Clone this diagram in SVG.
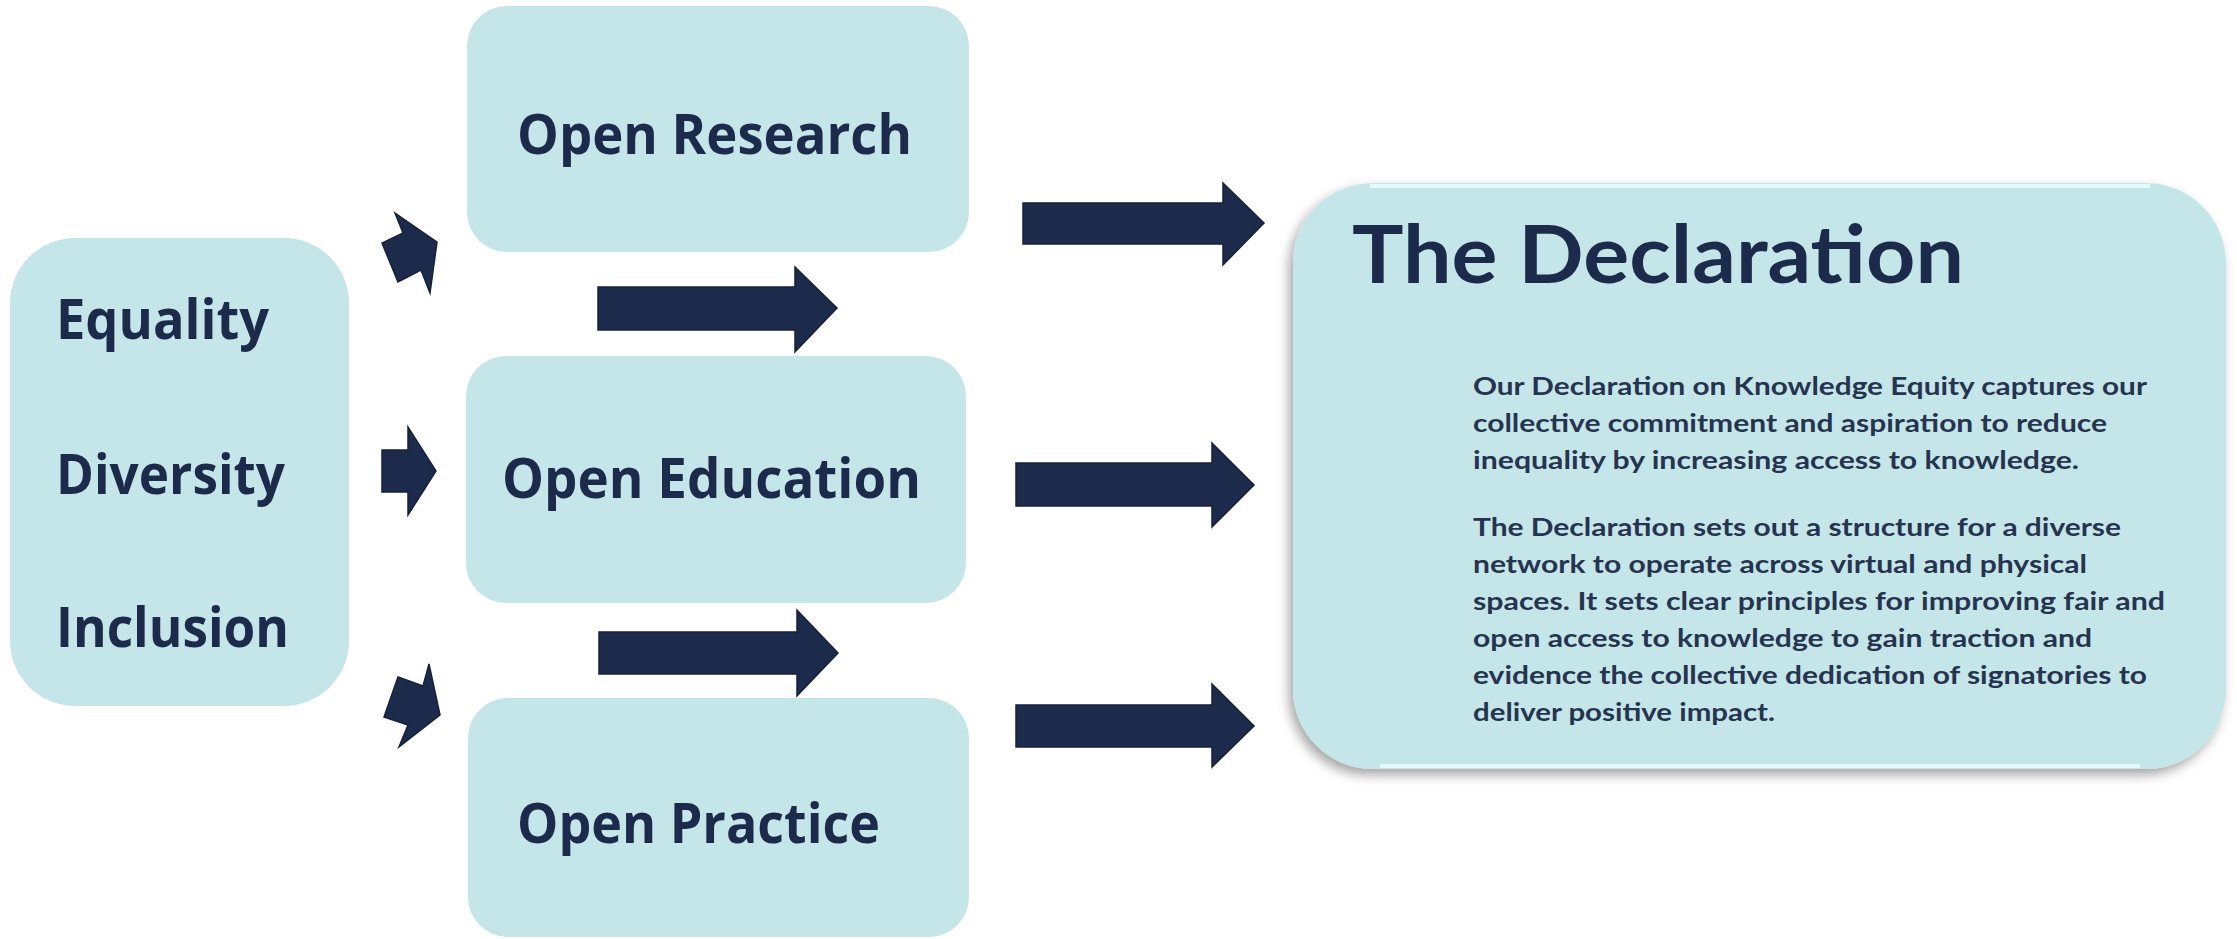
<svg xmlns="http://www.w3.org/2000/svg" width="2237" height="939" viewBox="0 0 2237 939">
<style>
.box{fill:#c5e6e8;}
.lbl{font-family:"Open Sans","Noto Sans",sans-serif;font-weight:700;font-size:56px;fill:#1c2a4b;}
.arrow{fill:#1c2a4b;stroke:#16213c;stroke-width:1.5;stroke-linejoin:miter;}
.title{font-family:Lato,"Noto Sans",sans-serif;font-weight:700;font-size:80px;fill:#1c2a4b;}
.body{font-family:Lato,"Noto Sans",sans-serif;font-weight:700;font-size:24px;fill:#26344f;}
</style>
<defs>
<filter id="shadow" x="-10%" y="-10%" width="120%" height="125%">
<feDropShadow dx="-4" dy="6" stdDeviation="6" flood-color="#000" flood-opacity="0.35"/>
</filter>
</defs>
<rect width="2237" height="939" fill="#ffffff"/>

<g id="node-edi">
<rect class="box" x="10" y="238" width="339" height="468" rx="65" ry="65"/>
<text class="lbl" x="56" y="339" textLength="213" lengthAdjust="spacingAndGlyphs">Equality</text>
<text class="lbl" x="56" y="494" textLength="229" lengthAdjust="spacingAndGlyphs">Diversity</text>
<text class="lbl" x="56" y="647" textLength="233" lengthAdjust="spacingAndGlyphs">Inclusion</text>
</g>

<g id="node-open-research">
<rect class="box" x="467" y="6" width="502" height="246" rx="40" ry="40"/>
<text class="lbl" x="517" y="154" textLength="395" lengthAdjust="spacingAndGlyphs">Open Research</text>
</g>

<g id="node-open-education">
<rect class="box" x="466" y="356" width="500" height="247" rx="40" ry="40"/>
<text class="lbl" x="502" y="498" textLength="419" lengthAdjust="spacingAndGlyphs">Open Education</text>
</g>

<g id="node-open-practice">
<rect class="box" x="468" y="698" width="501" height="239" rx="40" ry="40"/>
<text class="lbl" x="517" y="843" textLength="363" lengthAdjust="spacingAndGlyphs">Open Practice</text>
</g>

<g id="node-declaration">
<rect class="box" x="1293" y="183" width="933" height="586" rx="80" ry="80" filter="url(#shadow)"/>
<path d="M1370 186 H2150" stroke="#e2fafb" stroke-width="4" fill="none"/>
<path d="M1380 766 H2140" stroke="#e2fafb" stroke-width="4" fill="none"/>
<text class="title" x="1352" y="283" textLength="612" lengthAdjust="spacingAndGlyphs">The Declaration</text>
<text class="body" x="1473" y="395" textLength="674" lengthAdjust="spacingAndGlyphs">Our Declaration on Knowledge Equity captures our</text>
<text class="body" x="1473" y="432" textLength="634" lengthAdjust="spacingAndGlyphs">collective commitment and aspiration to reduce</text>
<text class="body" x="1473" y="469" textLength="606" lengthAdjust="spacingAndGlyphs">inequality by increasing access to knowledge.</text>
<text class="body" x="1473" y="536" textLength="648" lengthAdjust="spacingAndGlyphs">The Declaration sets out a structure for a diverse</text>
<text class="body" x="1473" y="573" textLength="614" lengthAdjust="spacingAndGlyphs">network to operate across virtual and physical</text>
<text class="body" x="1473" y="610" textLength="692" lengthAdjust="spacingAndGlyphs">spaces. It sets clear principles for improving fair and</text>
<text class="body" x="1473" y="647" textLength="619" lengthAdjust="spacingAndGlyphs">open access to knowledge to gain traction and</text>
<text class="body" x="1473" y="684" textLength="674" lengthAdjust="spacingAndGlyphs">evidence the collective dedication of signatories to</text>
<text class="body" x="1473" y="721" textLength="302" lengthAdjust="spacingAndGlyphs">deliver positive impact.</text>
</g>

<g id="connectors">
<polygon class="arrow" points="395,213 437,242 430,293 421,270 398,282 382,243 403,233"/>
<polygon class="arrow" points="382,450 408,450 408,427 436,471 408,515 408,492 382,492"/>
<polygon class="arrow" points="429,664 440,715 399,747 408,725 384,717 398,677 423,686"/>
<polygon class="arrow" points="598,287 795,287 795,267 837,308 795,352 795,330 598,330"/>
<polygon class="arrow" points="599,632 797,632 797,610 838,653 797,696 797,674 599,674"/>
<polygon class="arrow" points="1023,203 1223,203 1223,183 1264,223 1223,265 1223,244 1023,244"/>
<polygon class="arrow" points="1016,463 1212,463 1212,443 1254,485 1212,527 1212,506 1016,506"/>
<polygon class="arrow" points="1016,705 1212,705 1212,684 1254,726 1212,767 1212,747 1016,747"/>
</g>
</svg>
